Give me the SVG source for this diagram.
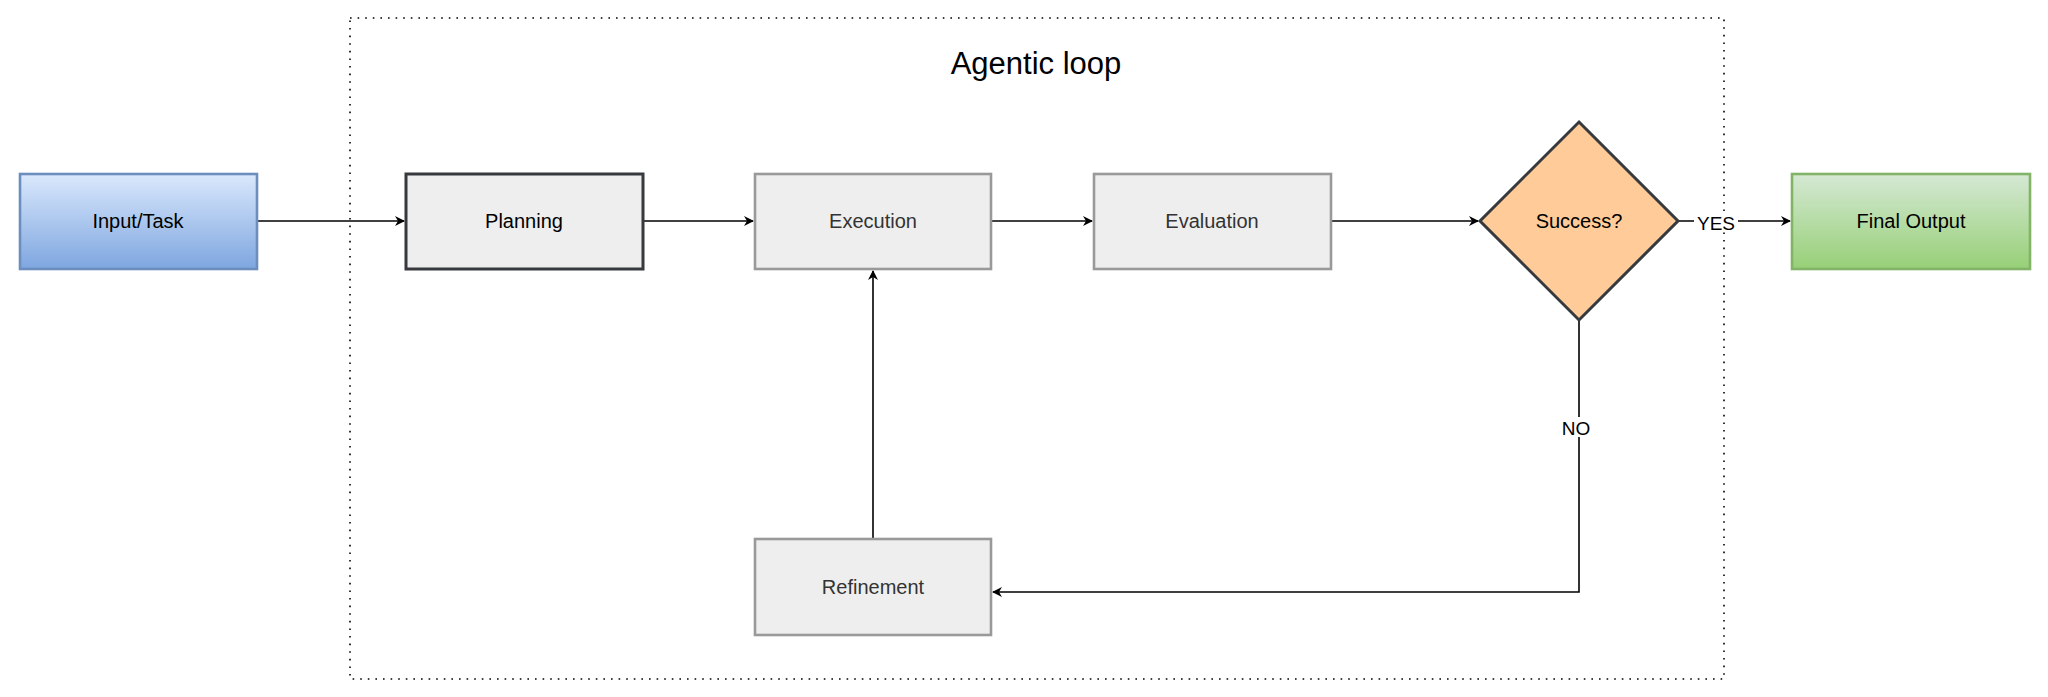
<svg xmlns="http://www.w3.org/2000/svg" width="2048" height="697" viewBox="0 0 2048 697">
<style>
text{font-family:"Liberation Sans",Arial,sans-serif;font-size:20px;text-anchor:middle;dominant-baseline:central}
.g{fill:#eeeeee;stroke:#999999;stroke-width:2.6}
.gt{fill:#333333}
.c{fill:none;stroke:#000;stroke-width:1.6;marker-end:url(#a)}
</style>
<defs>
<linearGradient id="blue" x1="0" y1="0" x2="0" y2="1"><stop offset="0" stop-color="#dae8fc"/><stop offset="1" stop-color="#7ea6e0"/></linearGradient>
<linearGradient id="green" x1="0" y1="0" x2="0" y2="1"><stop offset="0" stop-color="#d5e8d4"/><stop offset="1" stop-color="#97d077"/></linearGradient>
<marker id="a" viewBox="0 0 10 10" refX="9" refY="5" markerWidth="10" markerHeight="10" markerUnits="userSpaceOnUse" orient="auto"><path d="M0,0 L10,5 L0,10 L3,5 Z" fill="#000"/></marker>
</defs>
<rect width="2048" height="697" fill="#fff"/>
<g id="loop"><rect x="350" y="18" width="1374" height="661" fill="none" stroke="#000" stroke-width="1.6" stroke-dasharray="1.6 6"/><text x="1036" y="63" style="font-size:31px">Agentic loop</text></g>
<g id="connectors">
<path class="c" d="M257,221 H404"/>
<path class="c" d="M643,221 H753"/>
<path class="c" d="M991,221 H1092"/>
<path class="c" d="M1331,221 H1478"/>
<path class="c" d="M1678,221 H1790"/>
<path class="c" d="M1579,321 V592 H993"/>
<path class="c" d="M873,539 V271"/>
<rect x="1694" y="211" width="44" height="20" fill="#fff"/><text x="1716" y="223" style="font-size:19px">YES</text>
<rect x="1563" y="417" width="32" height="20" fill="#fff"/><text x="1576" y="428" style="font-size:19px">NO</text>
</g>
<g id="input"><rect x="20" y="174" width="237" height="95" fill="url(#blue)" stroke="#6c8ebf" stroke-width="2.6"/><text x="138" y="221">Input/Task</text></g>
<g id="planning"><rect x="406" y="174" width="237" height="95" fill="#eeeeee" stroke="#36393d" stroke-width="3"/><text x="524" y="221">Planning</text></g>
<g id="execution"><rect class="g" x="755" y="174" width="236" height="95"/><text class="gt" x="873" y="221">Execution</text></g>
<g id="evaluation"><rect class="g" x="1094" y="174" width="237" height="95"/><text class="gt" x="1212" y="221">Evaluation</text></g>
<g id="success"><path d="M1579,122 L1678,221 L1579,320 L1480,221 Z" fill="#ffcc99" stroke="#36393d" stroke-width="3"/><text x="1579" y="221">Success?</text></g>
<g id="final"><rect x="1792" y="174" width="238" height="95" fill="url(#green)" stroke="#82b366" stroke-width="2.6"/><text x="1911" y="221">Final Output</text></g>
<g id="refinement"><rect class="g" x="755" y="539" width="236" height="96"/><text class="gt" x="873" y="587">Refinement</text></g>
</svg>
